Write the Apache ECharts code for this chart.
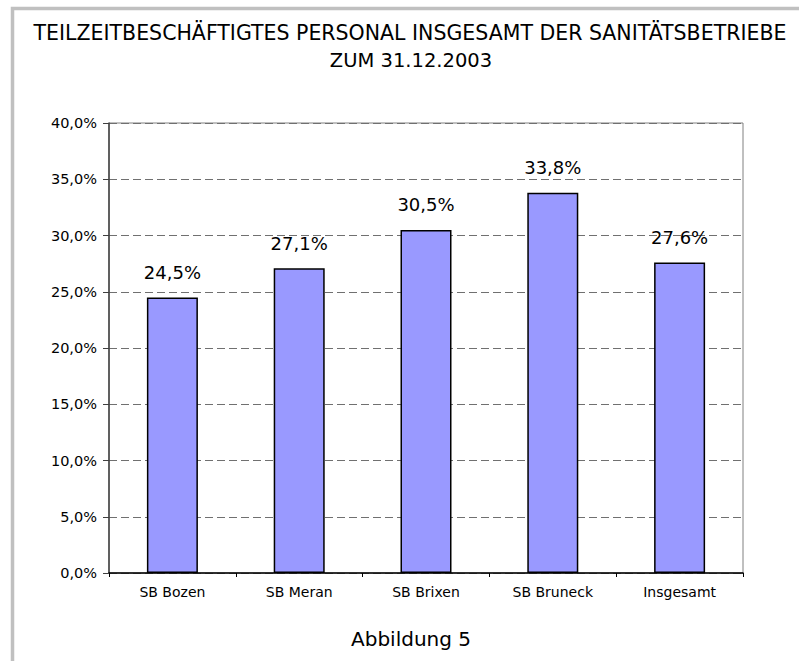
<!DOCTYPE html>
<html>
<head>
<meta charset="utf-8">
<script src="https://cdn.jsdelivr.net/npm/echarts@6/dist/echarts.min.js"></script>
<style>html,body{margin:0;padding:0;background:#fff}#c{width:799px;height:661px}</style>
</head>
<body>
<div id="c"></div>
<script>
var titleLines = ['TEILZEITBESCHÄFTIGTES PERSONAL INSGESAMT DER SANITÄTSBETRIEBE', 'ZUM 31.12.2003'];
var caption = 'Abbildung 5';
var categories = ['SB Bozen', 'SB Meran', 'SB Brixen', 'SB Bruneck', 'Insgesamt'];
var values = [24.5, 27.1, 30.5, 33.8, 27.6];
var yTicks = [0, 5, 10, 15, 20, 25, 30, 35, 40];

function pct(v) { return v.toFixed(1).replace('.', ',') + '%'; }

var FONT = 'DejaVu Sans';
var chart = echarts.init(document.getElementById('c'), null, { renderer: 'svg' });
chart.setOption({
  animation: false,
  backgroundColor: '#ffffff',
  grid: { left: 109, right: 56, top: 123, bottom: 88, show: true, borderColor: '#808080', borderWidth: 1, backgroundColor: 'transparent' },
  graphic: [
    { type: 'rect', shape: { x: 12.5, y: 8.5, width: 900, height: 900 }, style: { fill: 'none', stroke: '#c0c0c0', lineWidth: 3.5 }, z: 100 },
    { type: 'text', x: 410, y: 32.5, style: { text: titleLines[0], font: '20.5px "' + FONT + '"', fill: '#000', textAlign: 'center', textVerticalAlign: 'middle' } },
    { type: 'text', x: 411, y: 60, style: { text: titleLines[1], font: '19.5px "' + FONT + '"', fill: '#000', textAlign: 'center', textVerticalAlign: 'middle' } },
    { type: 'text', x: 411, y: 639, style: { text: caption, font: '20px "' + FONT + '"', fill: '#000', textAlign: 'center', textVerticalAlign: 'middle' } }
  ],
  xAxis: {
    type: 'category',
    data: categories,
    axisLine: { show: true, lineStyle: { color: '#000', width: 1.5 } },
    axisTick: { show: true, length: 4, lineStyle: { color: '#000' } },
    axisLabel: { color: '#000', fontFamily: FONT, fontSize: 14, margin: 12 },
    splitLine: { show: false }
  },
  yAxis: {
    type: 'value',
    min: 0, max: 40, interval: 5,
    axisLine: { show: true, lineStyle: { color: '#404040', width: 1.5 } },
    axisTick: { show: true, length: 6, lineStyle: { color: '#404040' } },
    axisLabel: { color: '#000', fontFamily: FONT, fontSize: 14.5, margin: 12, formatter: function (v) { return yTicks.indexOf(v) >= 0 ? pct(v) : ''; } },
    splitLine: { show: true, lineStyle: { color: '#707070', width: 1, type: [8, 4] } }
  },
  series: [{
    type: 'bar',
    data: values,
    barWidth: 51,
    itemStyle: { color: '#9999ff', borderColor: '#000', borderWidth: 1.5 },
    label: { show: true, position: 'top', distance: 16, color: '#000', fontFamily: FONT, fontSize: 18, formatter: function (p) { return pct(p.value); } }
  }]
});
</script>
</body>
</html>
